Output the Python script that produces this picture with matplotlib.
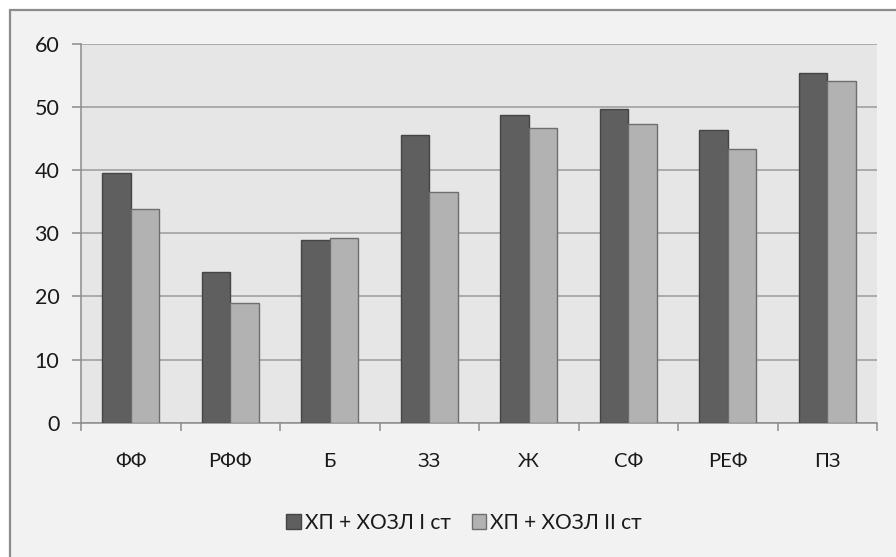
import matplotlib
matplotlib.use("Agg")
import matplotlib.pyplot as plt
import numpy as np
from matplotlib.patches import Rectangle

categories = ["ФФ", "РФФ", "Б", "ЗЗ", "Ж", "СФ", "РЕФ", "ПЗ"]
series1_name = "ХП + ХОЗЛ I ст"
series2_name = "ХП + ХОЗЛ II ст"
series1 = [39.5, 23.8, 29.0, 45.6, 48.8, 49.7, 46.4, 55.4]
series2 = [33.8, 18.9, 29.3, 36.6, 46.7, 47.4, 43.3, 54.2]
yticks = [0, 10, 20, 30, 40, 50, 60]

plt.rcParams['font.family'] = ['Lato', 'DejaVu Sans']

W, H = 896, 557
fig = plt.figure(figsize=(W / 100, H / 100), dpi=100)
fig.patch.set_facecolor("white")

# outer chart frame
fig.patches.append(Rectangle((10 / W, -0.05), 1.0, (H - 10) / H + 0.05,
                             transform=fig.transFigure, facecolor="#f2f2f2",
                             edgecolor="#8c8c8c", linewidth=1.6, zorder=-5))

ax = fig.add_axes([81 / W, (H - 422.7) / H, (877 - 81) / W, (422.7 - 44) / H])
ax.set_zorder(2)
ax.set_facecolor("#e6e6e6")

x = np.arange(len(categories))
bw = 1 / 3.5
ax.bar(x - bw / 2, series1, bw, color="#5f5f5f", edgecolor="#454545",
       linewidth=1.0, label=series1_name, zorder=3)
ax.bar(x + bw / 2, series2, bw, color="#b2b2b2", edgecolor="#6e6e6e",
       linewidth=1.0, label=series2_name, zorder=3)

ax.set_xlim(-0.5, len(categories) - 0.5)
ax.set_ylim(0, 60)
ax.set_yticks(yticks)
ax.yaxis.grid(True, color="#a6a6a6", linewidth=1.3, zorder=1)
ax.set_axisbelow(True)

ax.set_xticks(x)
ax.set_xticklabels(categories)
ax.set_xticks(np.arange(len(categories) + 1) - 0.5, minor=True)
ax.tick_params(axis="x", which="major", length=0, pad=22, labelsize=14.5,
               labelcolor="#1a1a1a")
ax.tick_params(axis="x", which="minor", length=6, width=1.1, color="#8c8c8c",
               direction="out")
ax.tick_params(axis="y", length=6.5, width=1.1, color="#8c8c8c", pad=9,
               labelsize=15.5, labelcolor="#1a1a1a")

for s in ["top", "right"]:
    ax.spines[s].set_visible(False)
for s in ["left", "bottom"]:
    ax.spines[s].set_color("#8c8c8c")
    ax.spines[s].set_linewidth(1.1)

leg = fig.legend(loc="center", bbox_to_anchor=(464 / W, (H - 523) / H),
                 ncol=2, frameon=False, fontsize=15, handlelength=0.7,
                 handleheight=0.7, handletextpad=0.2, columnspacing=1.0)
leg.set_zorder(3)
for t in leg.get_texts():
    t.set_color("#1a1a1a")

fig.savefig("out.png", dpi=100, facecolor=fig.get_facecolor())
